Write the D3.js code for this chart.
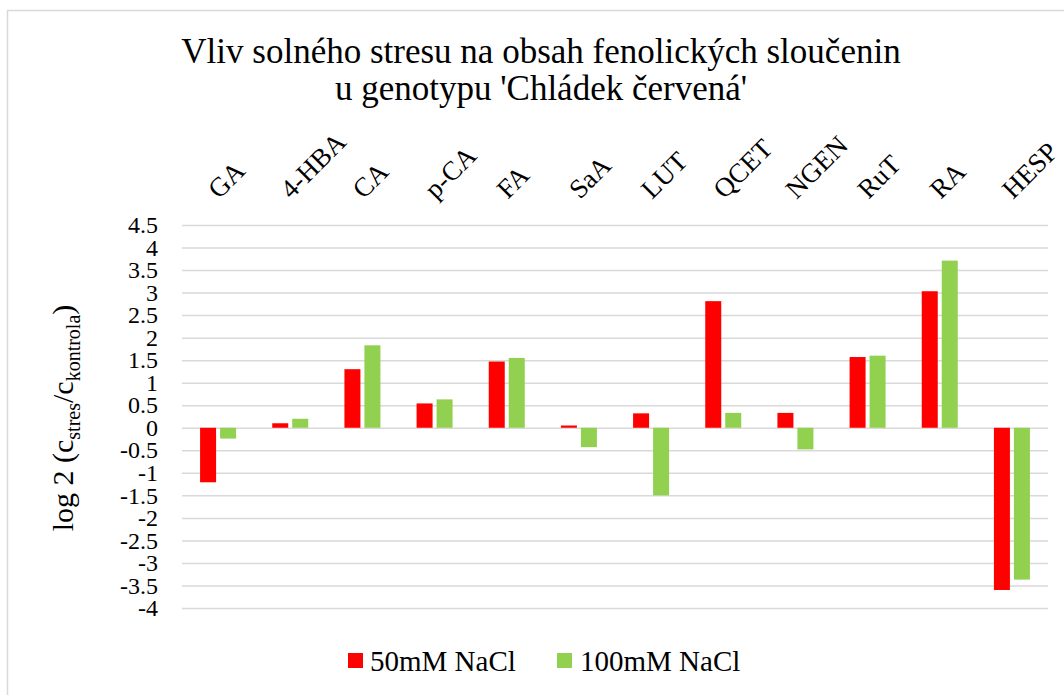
<!DOCTYPE html>
<html>
<head>
<meta charset="utf-8">
<script src="https://cdn.jsdelivr.net/npm/d3@7"></script>
<style>
  html, body { margin: 0; padding: 0; background: #fff; }
  svg { display: block; }
  svg text { font-family: "Liberation Serif", "Times New Roman", serif !important; }
</style>
</head>
<body>
<svg id="chart" width="1064" height="695"></svg>
<script>
// ---- data ----
const categories = ["GA", "4-HBA", "CA", "p-CA", "FA", "SaA", "LUT", "QCET", "NGEN", "RuT", "RA", "HESP"];
const seriesNames = ["50mM NaCl", "100mM NaCl"];
const values50 = [-1.21, 0.10, 1.30, 0.54, 1.47, 0.05, 0.32, 2.81, 0.33, 1.57, 3.03, -3.60];
const values100 = [-0.24, 0.20, 1.83, 0.63, 1.55, -0.43, -1.50, 0.33, -0.48, 1.60, 3.71, -3.37];
const yTicks = [-4, -3.5, -3, -2.5, -2, -1.5, -1, -0.5, 0, 0.5, 1, 1.5, 2, 2.5, 3, 3.5, 4, 4.5];
const titleLines = ["Vliv solného stresu na obsah fenolických sloučenin", "u genotypu 'Chládek červená'"];
const colors = ["#ff0000", "#92d050"];

// ---- layout ----
const svg = d3.select("#chart");
const W = 1064, H = 695;
const plot = { left: 182, right: 1048, top: 225, bottom: 608 };

// outer border
svg.append("rect")
  .attr("x", 7.5).attr("y", 10.5)
  .attr("width", W + 20).attr("height", H + 20)
  .attr("fill", "#fff").attr("stroke", "#d9d9d9").attr("stroke-width", 1.5);

// title
svg.append("g").selectAll("text").data(titleLines).join("text")
  .attr("x", 541).attr("y", (d, i) => 63 + i * 37)
  .attr("text-anchor", "middle")
  .attr("font-size", 35)
  .attr("fill", "#000")
  .text(d => d);

// scales
const x = d3.scaleBand().domain(categories).range([plot.left, plot.right]).padding(0);
const xInner = d3.scaleBand().domain(seriesNames).range([0, 36]).paddingInner(0.2);
const y = d3.scaleLinear().domain([-4, 4.5]).range([plot.bottom, plot.top]);

// y axis with gridlines
const yAxis = d3.axisLeft(y)
  .tickValues(yTicks)
  .tickSizeInner(-(plot.right - plot.left))
  .tickSizeOuter(0)
  .tickPadding(24)
  .tickFormat(d => String(d));
const gy = svg.append("g").attr("transform", `translate(${plot.left},0)`).call(yAxis);
gy.select(".domain").remove();
gy.selectAll(".tick line").attr("stroke", "#d9d9d9").attr("stroke-width", 1.5);
gy.selectAll(".tick text")
  .attr("font-size", 24)
  .attr("fill", "#000");

// x axis (category labels at top)
const xAxis = d3.axisTop(x).tickSize(0).tickPadding(0);
const gx = svg.append("g").attr("transform", `translate(0,${plot.top})`).call(xAxis);
gx.select(".domain").remove();
gx.selectAll(".tick text")
  .attr("font-size", 27)
  .attr("fill", "#000")
  .attr("text-anchor", "start")
  .attr("y", 0).attr("dy", 0)
  .attr("transform", "translate(1,-25) rotate(-45)");

// bars
const seriesData = [values50, values100];
const groups = svg.append("g").selectAll("g").data(seriesNames).join("g")
  .attr("fill", (d, i) => colors[i]);
groups.selectAll("rect")
  .data((s, si) => categories.map((c, ci) => ({ c, s, v: seriesData[si][ci] })))
  .join("rect")
  .attr("x", d => x(d.c) + x.bandwidth() / 2 - 18 + xInner(d.s))
  .attr("width", xInner.bandwidth())
  .attr("y", d => y(Math.max(0, d.v)))
  .attr("height", d => Math.abs(y(d.v) - y(0)));

// y axis title
const yt = svg.append("text")
  .attr("transform", "translate(73,418) rotate(-90)")
  .attr("text-anchor", "middle")
  .attr("font-size", 30)
  .attr("fill", "#000");
yt.append("tspan").text("log 2 (c");
yt.append("tspan").attr("font-size", 20).attr("dy", 7).text("stres");
yt.append("tspan").attr("dy", -7).text("/c");
yt.append("tspan").attr("font-size", 20).attr("dy", 7).text("kontrola");
yt.append("tspan").attr("dy", -7).text(")");

// legend
const legendPos = [{ sx: 348, tx: 370 }, { sx: 557, tx: 580 }];
const lg = svg.append("g").selectAll("g").data(seriesNames).join("g");
lg.append("rect")
  .attr("x", (d, i) => legendPos[i].sx).attr("y", 653)
  .attr("width", 15).attr("height", 15)
  .attr("fill", (d, i) => colors[i]);
lg.append("text")
  .attr("x", (d, i) => legendPos[i].tx).attr("y", 671)
  .attr("font-size", 29)
  .attr("fill", "#000")
  .text(d => d);
</script>
</body>
</html>
